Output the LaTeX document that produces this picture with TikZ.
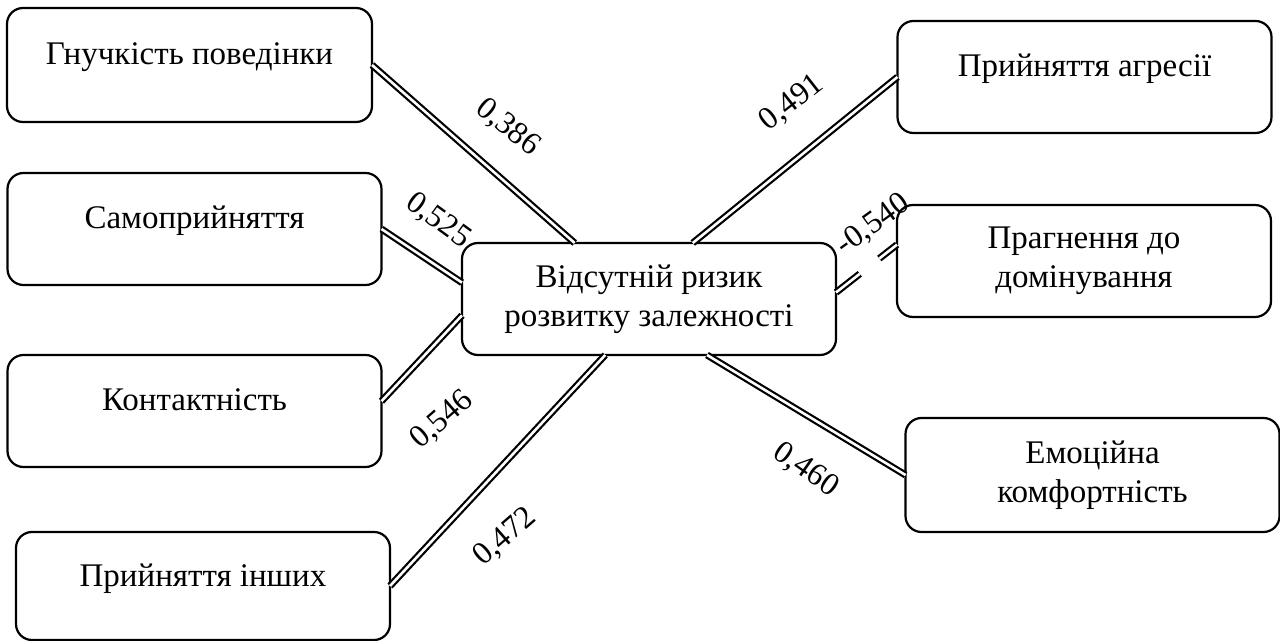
\documentclass[tikz,border=0pt]{standalone}
\usepackage{fontspec}
\setmainfont{Liberation Serif}
\usetikzlibrary{calc}
\begin{document}
\begin{tikzpicture}[x=0.5pt,y=-0.5pt,
  box/.style={draw, line width=1.1pt, rounded corners=8pt, minimum width=187pt,
    minimum height=56pt, inner sep=0pt, outer sep=0pt,
    font=\fontsize{16.5pt}{19.5pt}\selectfont},
  one/.style={box, text height=8pt, text depth=8pt},
  two/.style={box, align=center},
  dbl/.style={double, double distance=1.3pt, line width=1.1pt},
  lbl/.style={inner sep=0pt, font=\fontsize{16pt}{18pt}\selectfont}]
\useasboundingbox (0,0) rectangle (1280,641);
% nodes
\node[one, minimum width=182.5pt, minimum height=57pt] (b1) at (189.5,65) {Гнучкість поведінки};
\node[one] (b2) at (194.5,229) {Самоприйняття};
\node[one] (b3) at (194.5,411) {Контактність};
\node[one, minimum height=54pt] (b4) at (203,586) {Прийняття інших};
\node[two] (ctr) at (649,299) {Відсутній ризик\\розвитку залежності};
\node[one] (b6) at (1084.5,77) {Прийняття агресії};
\node[two] (b7) at (1084,261) {Прагнення до\\домінування};
\node[two, minimum height=57pt] (b8) at (1092.5,475) {Емоційна\\комфортність};
% connectors
\draw[dbl] (b1.east) -- (ctr.143.6);
\draw[dbl] (b2.east) -- (ctr.175.1);
\draw[dbl] (b3.3.4) -- (ctr.185.5);
\draw[dbl] (b4.east) -- (ctr.232.5);
\draw[dbl] (ctr.52.5) -- (b6.west);
\draw[dbl] (ctr.2.8) -- ($(ctr.2.8)!0.39!(b7.175.1)$);
\draw[dbl] ($(ctr.2.8)!0.71!(b7.175.1)$) -- (b7.175.1);
\draw[dbl] (ctr.316.5) -- (b8.west);
% labels
\node[lbl, rotate=-39] (l1) at (508,128) {0,386};
\node[lbl, rotate=-36] (l2) at (438,221) {0,525};
\node[lbl, rotate=41] (l3) at (442,420) {0,546};
\node[lbl, rotate=41] (l4) at (505,537) {0,472};
\node[lbl, rotate=38] (l5) at (792,103) {0,491};
\node[lbl, rotate=36] (l6) at (873,225) {-0,540};
\node[lbl, rotate=-35] (l7) at (806,470) {0,460};
\end{tikzpicture}
\end{document}
